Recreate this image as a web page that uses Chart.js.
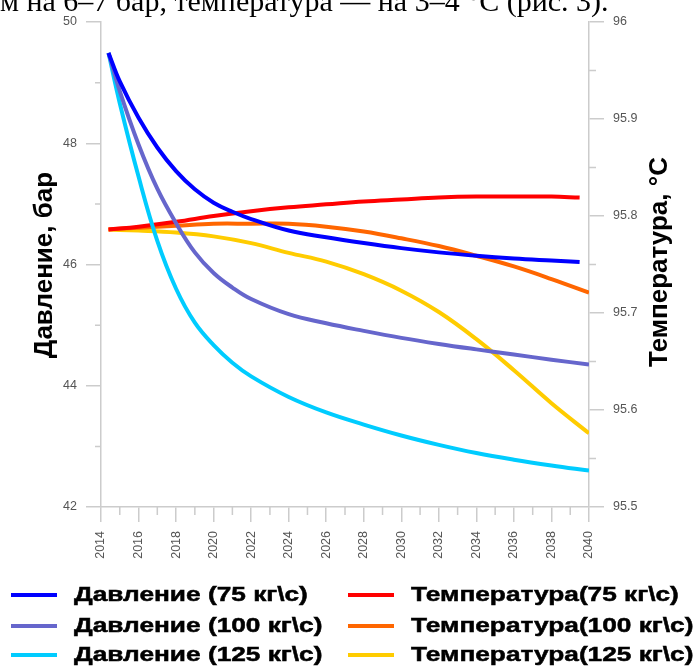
<!DOCTYPE html>
<html>
<head>
<meta charset="utf-8">
<script src="https://cdn.jsdelivr.net/npm/chart.js@4.4.1/dist/chart.umd.min.js"></script>
<style>
  html, body { margin: 0; padding: 0; background: #fff; }
  #wrap { position: relative; width: 695px; height: 669px; overflow: hidden; }
  #chart-box { position: absolute; left: 0; top: 0; width: 695px; height: 669px; }
  #caption {
    position: absolute; left: 0; top: -14px;
    font: 30px "Liberation Serif", "Times New Roman", serif;
    line-height: 30px; white-space: nowrap; color: #000;
  }
</style>
</head>
<body>
<div id="wrap">
  <div id="chart-box"><canvas id="chart"></canvas></div>
  <div id="caption">м на 6–7 бар, температура — на 3–4 °С (рис. 3).</div>
</div>
<script>
// Годы (ось X)
const pressureYears = [2014.4, 2015, 2016, 2017, 2018, 2019, 2020, 2021, 2022, 2024, 2026, 2028, 2030, 2032, 2034, 2036, 2038, 2040];
const pressureYears75 = [2014.4, 2015, 2016, 2017, 2018, 2019, 2020, 2021, 2022, 2024, 2026, 2028, 2030, 2032, 2034, 2036, 2038, 2039.5];
const tempYears = [2014.4, 2016, 2018, 2020, 2022, 2024, 2026, 2028, 2030, 2032, 2034, 2036, 2038, 2040];
const tempYears75 = [2014.4, 2016, 2018, 2020, 2022, 2024, 2026, 2028, 2030, 2032, 2034, 2036, 2038, 2039.5];

// Давление, бар
const pressure75 = [49.49, 49.02, 48.42, 47.93, 47.54, 47.24, 47.02, 46.87, 46.75, 46.56, 46.45, 46.355, 46.27, 46.2, 46.145, 46.1, 46.065, 46.04];
const pressure100 = [49.49, 48.86, 47.98, 47.25, 46.68, 46.2, 45.86, 45.62, 45.43, 45.18, 45.03, 44.905, 44.79, 44.69, 44.6, 44.515, 44.43, 44.35];
const pressure125 = [49.49, 48.66, 47.45, 46.39, 45.6, 45.04, 44.67, 44.38, 44.155, 43.815, 43.56, 43.36, 43.18, 43.025, 42.89, 42.78, 42.685, 42.6];

// Температура, °С
const temp75 = [95.786, 95.789, 95.794, 95.800, 95.805, 95.809, 95.812, 95.815, 95.817, 95.819, 95.820, 95.820, 95.820, 95.819];
const temp100 = [95.786, 95.788, 95.790, 95.792, 95.792, 95.792, 95.789, 95.784, 95.777, 95.769, 95.759, 95.748, 95.735, 95.721];
const temp125 = [95.786, 95.785, 95.783, 95.779, 95.772, 95.762, 95.753, 95.740, 95.723, 95.701, 95.673, 95.641, 95.607, 95.576];

const seriesLabels = [
  "Давление (75 кг\\с)", "Давление (100 кг\\с)", "Давление (125 кг\\с)",
  "Температура(75 кг\\с)", "Температура(100 кг\\с)", "Температура(125 кг\\с)"
];
const seriesColors = ["#0000ff", "#6666cc", "#00ccff", "#ff0000", "#ff6600", "#ffcc00"];

const FONT = '"Liberation Sans", Arial, sans-serif';

const pts = (xs, ys) => xs.map((x, i) => ({ x: x, y: ys[i] }));

const seriesData = [
  pts(pressureYears75, pressure75),
  pts(pressureYears, pressure100),
  pts(pressureYears, pressure125),
  pts(tempYears75, temp75),
  pts(tempYears, temp100),
  pts(tempYears, temp125)
];

const datasets = seriesData.map((data, i) => ({
  label: seriesLabels[i],
  data: data,
  yAxisID: i < 3 ? "y" : "y1",
  borderColor: seriesColors[i],
  backgroundColor: seriesColors[i],
  borderWidth: 4,
  pointRadius: 0,
  fill: false,
  tension: 0.4
}));

// Мелкие засечки, подписи осей и легенда
const extras = {
  id: "extras",
  afterDraw(chart) {
    const ctx = chart.ctx;
    const { x, y, y1 } = chart.scales;
    ctx.save();
    ctx.strokeStyle = "#cccccc";
    ctx.lineWidth = 1.5;
    ctx.beginPath();
    for (let v = 2015; v < 2040; v += 2) {
      const px = x.getPixelForValue(v);
      ctx.moveTo(px, x.top); ctx.lineTo(px, x.top + 8);
    }
    for (let v = 43; v < 50; v += 2) {
      const py = y.getPixelForValue(v);
      ctx.moveTo(y.right, py); ctx.lineTo(y.right - 6, py);
    }
    for (let k = 0; k < 5; k++) {
      const py = y1.getPixelForValue(95.55 + k * 0.1);
      ctx.moveTo(y1.left, py); ctx.lineTo(y1.left + 7, py);
    }
    ctx.stroke();

    // Заголовки осей
    ctx.fillStyle = "#000";
    ctx.font = "bold 26px " + FONT;
    ctx.textAlign = "center";
    ctx.textBaseline = "middle";
    ctx.save();
    ctx.translate(45, 265);
    ctx.rotate(-Math.PI / 2);
    ctx.fillText("Давление, бар", 0, 0);
    ctx.restore();
    ctx.save();
    ctx.translate(660, 262);
    ctx.rotate(-Math.PI / 2);
    ctx.fillText("Температура, °С", 0, 0);
    ctx.restore();

    // Легенда в две колонки
    const rowY = [595, 626, 655];
    chart.data.datasets.forEach((ds, i) => {
      const col = i < 3 ? 0 : 1;
      const ly = rowY[i % 3];
      const lx = col ? 348 : 11;
      const tx = col ? 411 : 74;
      ctx.strokeStyle = ds.borderColor;
      ctx.lineWidth = 4;
      ctx.beginPath();
      ctx.moveTo(lx, ly); ctx.lineTo(lx + 46, ly);
      ctx.stroke();
      ctx.save();
      ctx.translate(tx, ly + 6);
      ctx.scale(1.25, 1);
      ctx.font = "bold 21px " + FONT;
      ctx.textAlign = "left";
      ctx.textBaseline = "alphabetic";
      ctx.fillStyle = "#000";
      ctx.strokeStyle = "#000";
      ctx.lineWidth = 0.5;
      ctx.fillText(ds.label, 0, 0);
      ctx.strokeText(ds.label, 0, 0);
      ctx.restore();
    });
    ctx.restore();
  }
};

const tickFont = { family: FONT, size: 12.5 };
const gridStyle = { drawOnChartArea: false, drawTicks: true, tickLength: 15, color: "#cccccc", lineWidth: 1.5 };
const borderStyle = { display: true, color: "#cccccc", width: 1.5 };

new Chart(document.getElementById("chart"), {
  type: "line",
  data: { datasets: datasets },
  options: {
    responsive: true,
    maintainAspectRatio: false,
    animation: false,
    layout: { padding: { top: 22, bottom: 100, left: 0, right: 0 } },
    plugins: { legend: { display: false }, tooltip: { enabled: false } },
    scales: {
      x: {
        type: "linear",
        position: "bottom",
        min: 2014,
        max: 2040,
        ticks: {
          stepSize: 2, autoSkip: false, maxRotation: 90, minRotation: 90,
          padding: 9, color: "#555", font: tickFont,
          callback: v => String(v)
        },
        grid: gridStyle,
        border: borderStyle,
        afterFit: s => { s.height = 62; }
      },
      y: {
        position: "left",
        min: 42,
        max: 50,
        ticks: { stepSize: 2, padding: 9, color: "#555", font: tickFont, callback: v => String(v) },
        grid: gridStyle,
        border: borderStyle,
        afterFit: s => { s.width = 101; }
      },
      y1: {
        position: "right",
        min: 95.5,
        max: 96,
        ticks: { stepSize: 0.1, padding: 9, color: "#555", font: tickFont, callback: v => String(Math.round(v * 10) / 10) },
        grid: gridStyle,
        border: borderStyle,
        afterFit: s => { s.width = 106; }
      }
    }
  },
  plugins: [extras]
});
</script>
</body>
</html>
